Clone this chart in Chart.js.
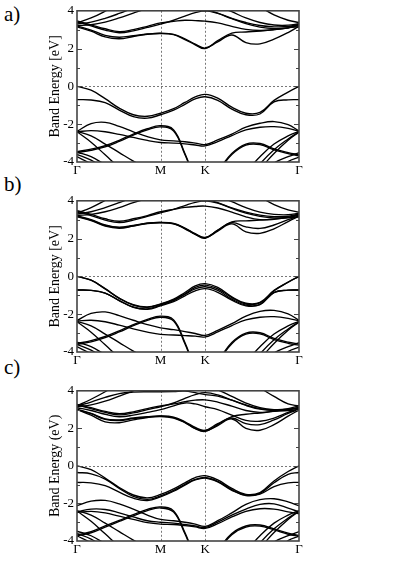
<!DOCTYPE html>
<html>
<head>
<meta charset="utf-8">
<script src="https://cdn.jsdelivr.net/npm/chart.js@4.4.1/dist/chart.umd.min.js"></script>
<style>
  body { margin: 0; background: #fff; width: 399px; height: 564px; overflow: hidden; position: relative; }
  canvas { position: absolute; left: 0; }
  .tag { position: absolute; left: 4px; font: 21px "Liberation Serif", "DejaVu Serif", serif; color: #000; }
</style>
</head>
<body>
<div class="tag" style="top:2px">a)</div>
<div class="tag" style="top:172px">b)</div>
<div class="tag" style="top:355px">c)</div>
<canvas id="panel-a" width="310" height="185" style="top:0px"></canvas>
<canvas id="panel-b" width="310" height="185" style="top:190px"></canvas>
<canvas id="panel-c" width="310" height="184" style="top:380px"></canvas>
<script>
// k-path positions (Γ - M - K - Γ) and the sampled band energies in eV
const kPath = [0, 0.15, 0.3, 0.45, 0.6, 0.75, 0.89, 1.03, 1.15, 1.26, 1.366, 1.5, 1.65, 1.8, 1.95, 2.1, 2.25, 2.366];
const kTicks = [0, 0.89, 1.366, 2.366];
const kLabels = ['Γ', 'M', 'K', 'Γ'];
const energyTicks = [-4, -2, 0, 2, 4];
const axisTitles = ['Band Energy [eV]', 'Band Energy [eV]', 'Band Energy (eV)'];

// deep valence bands, nearly the same in all three panels (-5 = below the window)
const deepBands = [
    [-2.38, -2.62, -3.05, -3.5, -3.95, -4.35, -4.7, -5, -5, -5, -5, -5, -5, -4.5, -3.72, -3.05, -2.62, -2.38],
    [-2.4, -2.95, -3.62, -4.3, -4.9, -5, -5, -5, -5, -5, -5, -5, -5, -5, -4.1, -3.35, -2.78, -2.4],
    [-3.48, -3.72, -4.15, -4.6, -5, -5, -5, -5, -5, -5, -5, -5, -5, -5, -4.6, -4.05, -3.72, -3.5],
    [-3.72, -4.1, -4.6, -5, -5, -5, -5, -5, -5, -5, -5, -5, -5, -5, -5, -4.6, -3.98, -3.74],
    [-3.6, -3.9, -4.35, -4.8, -5, -5, -5, -5, -5, -5, -5, -5, -5, -5, -4.35, -3.55, -2.85, -2.42]
];

const bandsA = [
    [3.15, 2.92, 2.62, 2.52, 2.64, 2.76, 2.8, 2.74, 2.48, 2.2, 2.0, 2.42, 2.82, 2.88, 2.93, 3.0, 3.1, 3.15],
    [3.2, 2.98, 2.7, 2.6, 2.68, 2.77, 2.81, 2.75, 2.52, 2.24, 2.03, 2.36, 2.72, 2.32, 2.25, 2.5, 2.85, 3.18],
    [3.42, 3.2, 2.98, 2.84, 2.94, 3.12, 3.3, 3.5, 3.72, 3.9, 4.0, 3.86, 3.58, 3.32, 3.14, 3.06, 3.1, 3.22],
    [3.47, 3.26, 3.05, 2.9, 3.0, 3.18, 3.36, 3.44, 3.5, 3.48, 3.45, 3.36, 3.18, 3.02, 2.96, 3.0, 3.1, 3.26],
    [3.36, 3.62, 3.98, 4.4, 4.7, 4.8, 4.8, 4.7, 4.6, 4.5, 4.5, 4.6, 4.7, 4.55, 4.2, 3.78, 3.5, 3.38],
    [3.3, 3.4, 3.6, 3.86, 4.15, 4.4, 4.6, 4.7, 4.7, 4.6, 4.5, 4.25, 3.95, 3.62, 3.38, 3.25, 3.24, 3.32],
    [3.22, 3.26, 3.4, 3.62, 3.88, 4.12, 4.3, 4.4, 4.35, 4.2, 4.08, 3.88, 3.6, 3.38, 3.22, 3.15, 3.17, 3.28],
    [0, -0.2, -0.65, -1.15, -1.5, -1.58, -1.42, -1.18, -0.85, -0.56, -0.42, -0.62, -1.1, -1.42, -1.38, -0.74, -0.3, 0],
    [-0.7, -0.72, -0.86, -1.25, -1.6, -1.68, -1.5, -1.26, -0.95, -0.66, -0.55, -0.74, -1.2, -1.5, -1.46, -0.82, -0.71, -0.7],
    [-2.38, -1.97, -1.9, -2.12, -2.4, -2.66, -2.83, -2.88, -2.93, -3.0, -3.08, -2.83, -2.52, -2.16, -1.95, -1.86, -2.02, -2.36],
    [-2.4, -2.34, -2.4, -2.54, -2.7, -2.86, -2.97, -3.0, -3.04, -3.1, -3.15, -2.92, -2.6, -2.3, -2.16, -2.13, -2.22, -2.38],
    [-3.45, -3.32, -3.14, -2.85, -2.52, -2.24, -2.08, -2.3, -3.55, -4.8, -5.4, -4.5, -3.55, -3.05, -3.02, -3.3, -3.5, -3.62],
    [-3.5, -3.38, -3.2, -2.91, -2.58, -2.3, -2.14, -2.36, -3.6, -4.85, -5.45, -4.55, -3.61, -3.11, -3.08, -3.36, -3.56, -3.68]
];

const bandsB = [
    [3.15, 2.95, 2.66, 2.55, 2.66, 2.8, 2.84, 2.78, 2.52, 2.22, 2.02, 2.45, 2.88, 2.94, 2.98, 3.04, 3.1, 3.15],
    [3.18, 2.98, 2.7, 2.58, 2.68, 2.81, 2.85, 2.79, 2.54, 2.24, 2.04, 2.4, 2.78, 2.36, 2.28, 2.52, 2.9, 3.18],
    [3.2, 3.0, 2.72, 2.6, 2.7, 2.82, 2.86, 2.8, 2.56, 2.26, 2.06, 2.44, 2.84, 2.62, 2.54, 2.72, 3.0, 3.2],
    [3.45, 3.22, 2.98, 2.85, 2.98, 3.18, 3.36, 3.55, 3.75, 3.92, 4.0, 3.88, 3.6, 3.35, 3.18, 3.1, 3.12, 3.25],
    [3.48, 3.28, 3.05, 2.92, 3.05, 3.22, 3.42, 3.55, 3.65, 3.7, 3.72, 3.62, 3.4, 3.15, 3.0, 3.02, 3.12, 3.28],
    [3.36, 3.64, 4.02, 4.4, 4.7, 4.8, 4.8, 4.7, 4.6, 4.5, 4.5, 4.6, 4.7, 4.55, 4.2, 3.8, 3.52, 3.4],
    [3.3, 3.42, 3.64, 3.9, 4.18, 4.4, 4.6, 4.7, 4.7, 4.6, 4.5, 4.25, 3.95, 3.64, 3.4, 3.28, 3.26, 3.34],
    [3.22, 3.28, 3.42, 3.64, 3.9, 4.12, 4.3, 4.4, 4.35, 4.2, 4.08, 3.9, 3.62, 3.4, 3.24, 3.16, 3.18, 3.3],
    [0, -0.2, -0.65, -1.15, -1.5, -1.62, -1.46, -1.2, -0.85, -0.5, -0.38, -0.58, -1.08, -1.42, -1.38, -0.74, -0.3, 0],
    [0, -0.2, -0.66, -1.16, -1.52, -1.64, -1.48, -1.24, -0.92, -0.58, -0.46, -0.66, -1.12, -1.46, -1.4, -0.76, -0.31, 0],
    [-0.72, -0.74, -0.88, -1.28, -1.62, -1.72, -1.52, -1.28, -0.95, -0.66, -0.55, -0.74, -1.2, -1.52, -1.48, -0.84, -0.73, -0.72],
    [-0.72, -0.74, -0.88, -1.28, -1.64, -1.74, -1.56, -1.34, -1.03, -0.76, -0.65, -0.84, -1.26, -1.56, -1.5, -0.86, -0.73, -0.72],
    [-2.33, -1.96, -1.88, -2.08, -2.32, -2.55, -2.72, -2.82, -2.92, -3.02, -3.12, -2.85, -2.5, -2.1, -1.85, -1.8, -1.98, -2.33],
    [-2.36, -2.32, -2.4, -2.58, -2.78, -2.95, -3.07, -3.1, -3.13, -3.16, -3.2, -2.94, -2.6, -2.3, -2.16, -2.13, -2.22, -2.36],
    [-3.55, -3.4, -3.18, -2.88, -2.55, -2.27, -2.1, -2.3, -3.5, -4.8, -5.4, -4.5, -3.5, -3.0, -2.98, -3.28, -3.48, -3.58],
    [-3.6, -3.46, -3.24, -2.94, -2.61, -2.33, -2.16, -2.36, -3.56, -4.86, -5.46, -4.56, -3.56, -3.06, -3.04, -3.34, -3.54, -3.64]
];

const bandsC = [
    [3.0, 2.7, 2.35, 2.3, 2.45, 2.58, 2.63, 2.55, 2.3, 1.98, 1.84, 2.2, 2.62, 2.75, 2.82, 2.9, 2.95, 2.98],
    [3.0, 2.78, 2.48, 2.42, 2.52, 2.6, 2.65, 2.57, 2.32, 2.0, 1.86, 2.15, 2.5, 2.0, 1.9, 2.2, 2.65, 2.98],
    [3.02, 2.8, 2.5, 2.45, 2.55, 2.62, 2.66, 2.6, 2.35, 2.05, 1.9, 2.25, 2.55, 2.25, 2.2, 2.45, 2.8, 3.0],
    [3.1, 2.95, 2.75, 2.62, 2.7, 2.85, 3.0, 3.2, 3.35, 3.3, 3.15, 3.0, 2.7, 2.42, 2.38, 2.55, 2.85, 3.05],
    [3.25, 3.05, 2.85, 2.72, 2.82, 3.0, 3.15, 3.35, 3.6, 3.8, 3.9, 3.78, 3.5, 3.22, 3.02, 2.95, 3.0, 3.1],
    [3.28, 3.1, 2.9, 2.78, 2.88, 3.05, 3.2, 3.3, 3.42, 3.5, 3.52, 3.4, 3.18, 2.95, 2.85, 2.92, 3.05, 3.2],
    [3.2, 3.4, 3.65, 3.85, 3.93, 3.95, 3.95, 3.96, 3.98, 3.9, 3.8, 3.72, 3.5, 3.25, 3.05, 2.98, 3.0, 3.1],
    [3.2, 3.55, 3.95, 4.4, 4.7, 4.8, 4.8, 4.7, 4.6, 4.5, 4.5, 4.6, 4.7, 4.55, 4.15, 3.7, 3.3, 3.2],
    [3.15, 3.25, 3.45, 3.72, 4.0, 4.3, 4.5, 4.6, 4.6, 4.45, 4.3, 4.05, 3.7, 3.35, 3.1, 3.0, 3.02, 3.1],
    [0, -0.2, -0.65, -1.15, -1.55, -1.7, -1.52, -1.22, -0.9, -0.62, -0.52, -0.75, -1.2, -1.52, -1.42, -0.8, -0.3, 0],
    [-0.35, -0.42, -0.7, -1.2, -1.62, -1.78, -1.6, -1.3, -0.98, -0.72, -0.62, -0.82, -1.26, -1.56, -1.46, -0.9, -0.45, -0.35],
    [-0.88, -0.9, -1.05, -1.4, -1.72, -1.85, -1.65, -1.35, -1.02, -0.75, -0.65, -0.85, -1.3, -1.58, -1.5, -1.1, -0.9, -0.88],
    [-2.12, -1.88, -1.84, -2.02, -2.3, -2.62, -2.85, -2.92, -3.0, -3.1, -3.22, -2.92, -2.5, -2.05, -1.8, -1.75, -1.92, -2.12],
    [-2.45, -2.3, -2.32, -2.5, -2.72, -2.92, -3.0, -3.05, -3.12, -3.2, -3.28, -3.0, -2.62, -2.3, -2.05, -2.02, -2.25, -2.45],
    [-2.48, -2.42, -2.5, -2.68, -2.85, -3.02, -3.1, -3.12, -3.18, -3.25, -3.33, -3.08, -2.72, -2.42, -2.28, -2.3, -2.45, -2.55],
    [-3.68, -3.5, -3.2, -2.9, -2.6, -2.32, -2.18, -2.4, -3.55, -4.8, -5.4, -4.5, -3.6, -3.2, -3.15, -3.35, -3.58, -3.7],
    [-3.73, -3.56, -3.26, -2.96, -2.66, -2.38, -2.24, -2.46, -3.61, -4.86, -5.46, -4.56, -3.66, -3.26, -3.21, -3.41, -3.64, -3.75]
];

const serif = '"Liberation Serif", "DejaVu Serif", serif';

// frame, dashed guide lines and inward ticks, like the xmgrace original
const framePlugin = {
    id: 'frame',
    beforeDatasetsDraw(chart) {
        const { ctx, chartArea: a, scales: { x, y } } = chart;
        ctx.save();
        ctx.strokeStyle = '#555';
        ctx.lineWidth = 0.8;
        ctx.setLineDash([2, 2]);
        ctx.beginPath();
        [kTicks[1], kTicks[2]].forEach(k => {
            const px = Math.round(x.getPixelForValue(k)) + 0.5;
            ctx.moveTo(px, a.top);
            ctx.lineTo(px, a.bottom);
        });
        const py = Math.round(y.getPixelForValue(0)) + 0.5;
        ctx.moveTo(a.left, py);
        ctx.lineTo(a.right, py);
        ctx.stroke();
        ctx.restore();
    },
    afterDatasetsDraw(chart) {
        const { ctx, chartArea: a, scales: { y } } = chart;
        ctx.save();
        ctx.strokeStyle = '#444';
        ctx.lineWidth = 1;
        ctx.beginPath();
        for (let v = -3; v <= 3; v++) {
            const py = Math.round(y.getPixelForValue(v)) + 0.5;
            const len = v % 2 === 0 ? 5 : 3;
            ctx.moveTo(a.left, py);
            ctx.lineTo(a.left + len, py);
            ctx.moveTo(a.right, py);
            ctx.lineTo(a.right - len, py);
        }
        ctx.stroke();
        ctx.lineWidth = 1.6;
        ctx.strokeRect(a.left, a.top, a.right - a.left, a.bottom - a.top);
        ctx.restore();
    }
};

function renderPanel(canvasId, bands, title) {
    const datasets = bands.concat(deepBands).map(band => ({
        data: kPath.map((k, i) => ({ x: k, y: band[i] })),
        borderColor: '#000',
        borderWidth: 1.35,
        pointRadius: 0,
        fill: false,
        tension: 0.4
    }));

    new Chart(document.getElementById(canvasId), {
        type: 'line',
        data: { datasets },
        options: {
            responsive: false,
            animation: false,
            devicePixelRatio: 1,
            layout: { padding: { left: 0, top: 9, right: 11, bottom: 0 } },
            plugins: { legend: { display: false }, tooltip: { enabled: false } },
            scales: {
                x: {
                    type: 'linear',
                    min: 0,
                    max: kTicks[3],
                    afterBuildTicks: s => { s.ticks = kTicks.map(v => ({ value: v })); },
                    afterFit: s => { s.height = 23; },
                    grid: { display: false, drawTicks: false },
                    border: { display: false },
                    ticks: {
                        autoSkip: false,
                        maxRotation: 0,
                        padding: 1,
                        color: '#000',
                        font: { family: serif, size: 13 },
                        callback: (v, i) => kLabels[i]
                    }
                },
                y: {
                    min: -4,
                    max: 4,
                    afterBuildTicks: s => { s.ticks = energyTicks.map(v => ({ value: v })); },
                    afterFit: s => { s.width = 77; },
                    grid: { display: false, drawTicks: false },
                    border: { display: false },
                    ticks: {
                        padding: 3,
                        color: '#000',
                        font: { family: serif, size: 13 },
                        callback: v => String(v)
                    },
                    title: {
                        display: true,
                        text: title,
                        color: '#000',
                        font: { family: serif, size: 14 },
                        padding: { top: 47, bottom: 0 }
                    }
                }
            }
        },
        plugins: [framePlugin]
    });
}

renderPanel('panel-a', bandsA, axisTitles[0]);
renderPanel('panel-b', bandsB, axisTitles[1]);
renderPanel('panel-c', bandsC, axisTitles[2]);
</script>
</body>
</html>
